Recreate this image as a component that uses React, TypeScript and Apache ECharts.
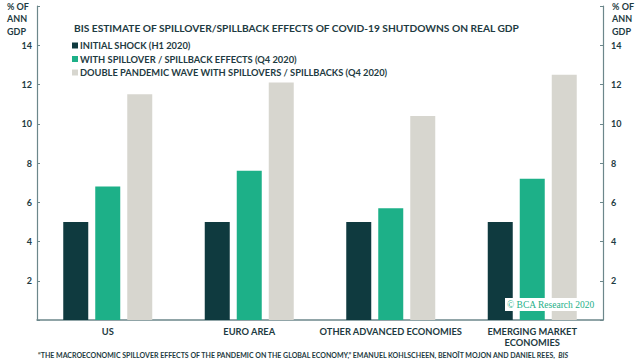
import React, { useEffect, useRef } from "react";
import * as echarts from "echarts";

const categories = ["US", "EURO AREA", "OTHER ADVANCED ECONOMIES", "EMERGING MARKET\nECONOMIES"];
const initialShock = [5, 5, 5, 5];
const withSpillover = [6.8, 7.6, 5.7, 7.2];
const doubleWave = [11.5, 12.1, 10.4, 12.5];
const seriesNames = [
  "INITIAL SHOCK (H1 2020)",
  "WITH SPILLOVER / SPILLBACK EFFECTS (Q4 2020)",
  "DOUBLE PANDEMIC WAVE WITH SPILLOVERS / SPILLBACKS (Q4 2020)",
];
const colors = ["#0f3a3f", "#1db088", "#d7d6cf"];

export default function App() {
  const ref = useRef<HTMLDivElement>(null);
  useEffect(() => {
    const chart = echarts.init(ref.current!, null, { renderer: "svg" });
    const font = "Lato";
    const axisColor = "#6c878b";
    const textColor = "#1e3b42";
    const yAxisBase = {
      type: "value",
      min: 0,
      max: 16,
      interval: 2,
      axisLine: { show: true, lineStyle: { color: axisColor, width: 1.2 } },
      axisTick: { show: true, inside: true, length: 3, lineStyle: { color: axisColor } },
      splitLine: { show: false },
      axisLabel: {
        color: textColor,
        fontFamily: font,
        fontWeight: "bold",
        fontSize: 9,
        formatter: (v: number) => (v === 0 || v === 16 ? "" : String(v)),
      },
    };
    chart.setOption({
      animation: false,
      textStyle: { fontFamily: font },
      grid: { left: 37, right: 37, top: 6, bottom: 40, containLabel: false },
      title: {
        text: "BIS ESTIMATE OF SPILLOVER/SPILLBACK EFFECTS OF COVID-19 SHUTDOWNS ON REAL GDP",
        left: 69,
        top: 18,
        textStyle: { fontFamily: font, fontSize: 10.2, fontWeight: "bold", color: textColor },
      },
      legend: {
        orient: "vertical",
        left: 67,
        top: 36,
        itemWidth: 6,
        itemHeight: 6,
        itemGap: 4.5,
        icon: "rect",
        data: seriesNames,
        z: 20,
        textStyle: { fontFamily: font, fontSize: 9.3, fontWeight: "bold", color: textColor, padding: [0, 0, 0, -3] },
      },
      xAxis: {
        type: "category",
        data: categories,
        axisLine: { show: true, lineStyle: { color: axisColor, width: 1.5 } },
        axisTick: { show: false },
        axisLabel: {
          color: textColor,
          fontFamily: font,
          fontWeight: "bold",
          fontSize: 9.3,
          lineHeight: 11,
          margin: 6,
          interval: 0,
        },
      },
      yAxis: [
        { ...yAxisBase, position: "left", axisLabel: { ...yAxisBase.axisLabel, margin: 5 } },
        { ...yAxisBase, position: "right", axisLabel: { ...yAxisBase.axisLabel, margin: 8 } },
      ],
      series: [
        { name: seriesNames[0], type: "bar", data: initialShock, barWidth: 25, barGap: "28%", barCategoryGap: "37%", itemStyle: { color: colors[0] } },
        { name: seriesNames[1], type: "bar", data: withSpillover, barWidth: 25, barGap: "28%", itemStyle: { color: colors[1] } },
        { name: seriesNames[2], type: "bar", data: doubleWave, barWidth: 25, barGap: "28%", itemStyle: { color: colors[2] } },
      ],
      graphic: [
        {
          type: "text",
          left: 7,
          top: 0,
          z: 100,
          style: {
            text: "% OF\nANN\nGDP",
            fill: textColor,
            font: `bold 9px ${font}`,
            lineHeight: 12.5,
            align: "right",
          },
        },
        {
          type: "text",
          right: 6,
          top: 0,
          z: 100,
          style: {
            text: "% OF\nANN\nGDP",
            fill: textColor,
            font: `bold 9px ${font}`,
            lineHeight: 12.5,
            align: "left",
          },
        },
        {
          type: "group",
          left: 505,
          top: 298,
          z: 100,
          children: [
            { type: "rect", z: 100, shape: { x: 0, y: 0, width: 86, height: 13 }, style: { fill: "#ffffff" } },
            {
              type: "text",
              z: 101,
              x: 2,
              y: 1.5,
              style: { text: "© BCA Research 2020", fill: "#1db088", font: "9.5px 'Liberation Serif', serif" },
            },
          ],
        },
        {
          type: "text",
          left: 38,
          top: 351,
          z: 100,
          style: {
            text: "{n|“THE MACROECONOMIC SPILLOVER EFFECTS OF THE PANDEMIC ON THE GLOBAL ECONOMY,” EMANUEL KOHLSCHEEN, BENOÎT MOJON AND DANIEL REES, }{i|BIS}",
            rich: {
              n: { fill: textColor, font: `bold 7px ${font}` },
              i: { fill: textColor, font: `italic bold 7px ${font}` },
            },
          },
        },
      ],
    });
    return () => chart.dispose();
  }, []);
  return <div ref={ref} style={{ width: 640, height: 360, position: "absolute", left: 0, top: 0 }} />;
}
